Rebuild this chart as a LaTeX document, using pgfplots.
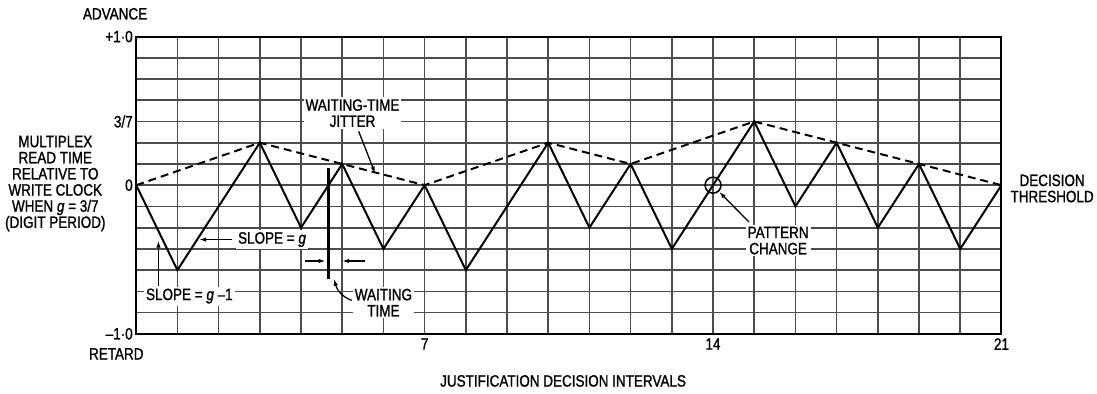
\documentclass[border=0pt]{standalone}
\usepackage{fontspec}
\setmainfont{Liberation Sans}[FakeStretch=0.82, FakeBold=1.2]
\usepackage{pgfplots}
\pgfplotsset{compat=1.18}
\usetikzlibrary{arrows.meta}
\newcommand{\lf}{\fontsize{16.5bp}{16.2bp}\selectfont}
\begin{document}
\begin{tikzpicture}[font=\lf, >={Latex[length=7bp,width=4.5bp]}]
\begin{axis}[
  scale only axis, width=868.3bp, height=298.3bp,
  at={(0,0)}, anchor=south west,
  xmin=0, xmax=21, ymin=-1, ymax=1,
  xtick={7,14,21}, xticklabels={7,14,21},
  ytick={-1,0,0.4285714,1}, yticklabels={–1·0,0,3/7,+1·0},
  minor xtick={1,...,20},
  minor ytick={-0.857143,-0.714286,-0.571429,-0.428571,-0.285714,-0.142857,0.142857,0.285714,0.571429,0.714286,0.857143},
  grid=both,
  major grid style={black!70, line width=1.7bp},
  minor grid style={black!70, line width=1.7bp},
  major tick length=0pt, minor tick length=0pt,
  axis line style={line width=2bp},
  tick label style={font=\lf},
  xticklabel style={yshift=-1bp},
  clip=false,
]
% solid waveform
\addplot[black, line width=2bp] coordinates {
 (0,0) (1,-0.571429) (3,0.285714) (4,-0.285714) (5,0.142857) (6,-0.428571)
 (7,0) (8,-0.571429) (10,0.285714) (11,-0.285714) (12,0.142857) (13,-0.428571)
 (15,0.428571) (16,-0.142857) (17,0.285714) (18,-0.285714) (19,0.142857)
 (20,-0.428571) (21,0)};
% dashed envelope
\addplot[black, line width=2bp, dash pattern=on 8bp off 5bp] coordinates {
 (0,0) (3,0.285714) (7,0) (10,0.285714) (12,0.142857) (15,0.428571) (21,0)};
% zero crossing marker line
\addplot[black, line width=2.2bp] coordinates {(4.667,0.113) (4.667,-0.63)};
% pattern change circle
\addplot[only marks, mark=o, mark size=8bp, mark options={line width=1.6bp, black}] coordinates {(14,0)};

% annotations
\node[fill=white, inner sep=2bp, align=center] at (axis cs:5.25,0.485) {WAITING-TIME\\JITTER};
\draw[->, line width=1.3bp] (axis cs:5.40,0.362) -- (axis cs:5.80,0.079);

\node[fill=white, inner sep=2bp, anchor=west] at (axis cs:2.42,-0.366) {SLOPE = \textit{g}};
\draw[->, line width=1.3bp] (axis cs:2.33,-0.366) -- (axis cs:1.53,-0.366);

\node[fill=white, inner sep=2bp] at (axis cs:1.29,-0.746) {SLOPE = \textit{g} –1};
\draw[->, line width=1.3bp] (axis cs:0.54,-0.677) -- (axis cs:0.54,-0.373);

\draw[->, line width=1.3bp] (axis cs:4.094,-0.51) -- (axis cs:4.595,-0.51);
\draw[->, line width=1.3bp] (axis cs:5.544,-0.51) -- (axis cs:4.997,-0.51);
\node[fill=white, inner sep=2bp, align=center] at (axis cs:6.0,-0.79) {WAITING\\TIME};
\draw[->, line width=1.3bp] (axis cs:5.23,-0.775) to[out=160,in=-75] (axis cs:4.80,-0.63);

\node[fill=white, inner sep=2bp, align=center] at (axis cs:15.58,-0.373) {PATTERN\\CHANGE};
\draw[->, line width=1.3bp] (axis cs:14.87,-0.247) -- (axis cs:14.15,-0.045);

% outer labels
\node at (axis cs:-0.513,1.153) {ADVANCE};
\node at (axis cs:-0.484,-1.135) {RETARD};
\node[align=center] at (axis cs:-1.964,0.011) {MULTIPLEX\\READ TIME\\RELATIVE TO\\WRITE CLOCK\\WHEN \textit{g} = 3/7\\(DIGIT PERIOD)};
\node[align=center] at (axis cs:22.23,-0.022) {DECISION\\THRESHOLD};
\node at (axis cs:10.36,-1.317) {JUSTIFICATION DECISION INTERVALS};
\end{axis}
\path (-136.7bp,-60bp) rectangle (960.3bp,335bp);
\end{tikzpicture}
\end{document}
